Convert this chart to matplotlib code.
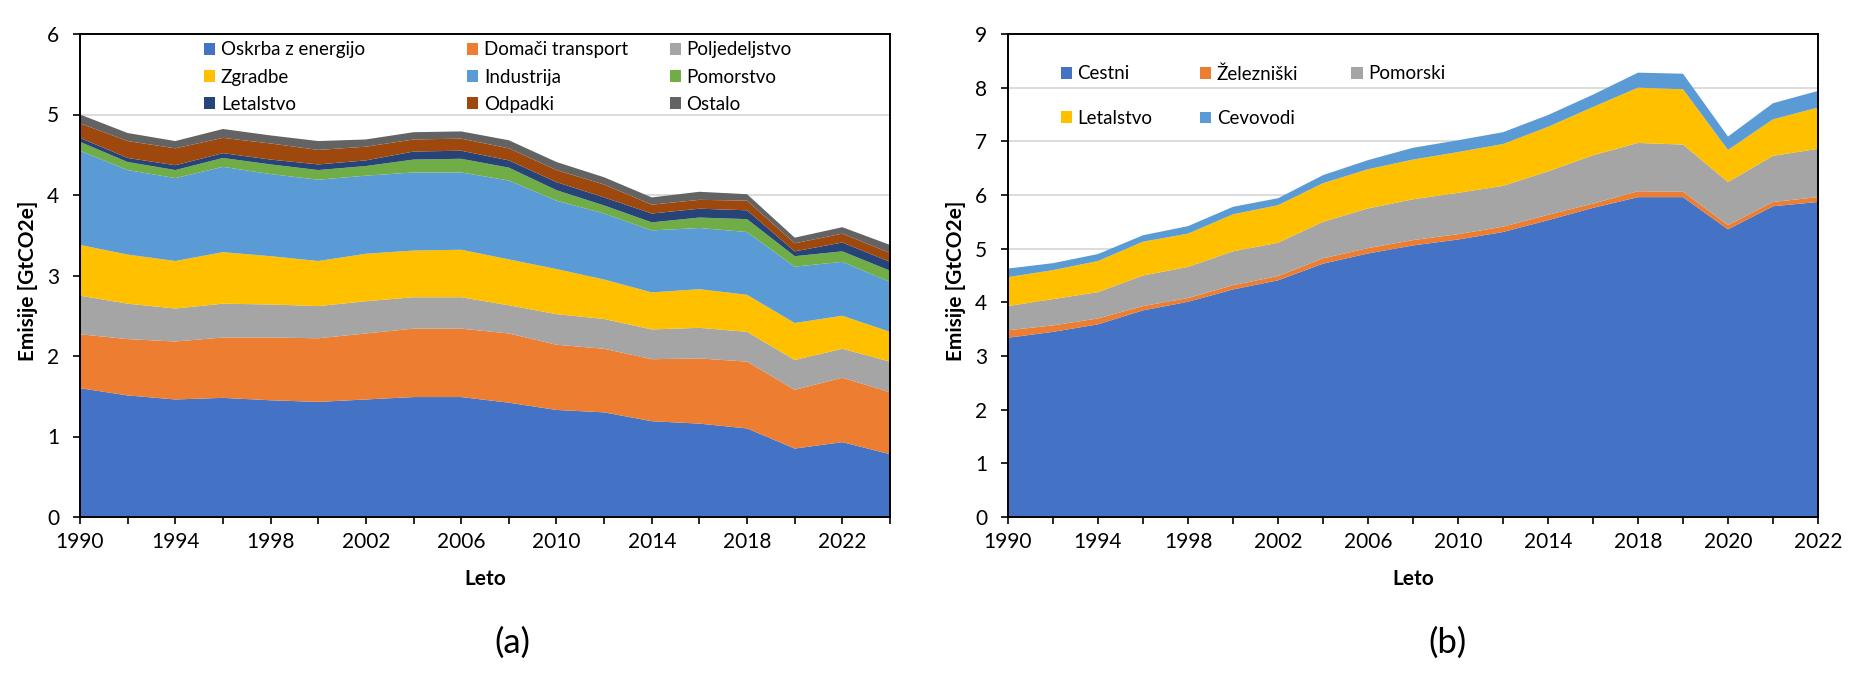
"""Two stacked-area charts of emissions (GtCO2e): (a) by sector, (b) transport by mode."""

import matplotlib
matplotlib.use("Agg")
import matplotlib.pyplot as plt
from matplotlib.patches import Patch
import numpy as np

# (a) sectors, every 2nd year 1990-2024
years_a = list(range(1990, 2025, 2))
sectors_a = ["Oskrba z energijo", "Domači transport", "Poljedeljstvo", "Zgradbe",
             "Industrija", "Pomorstvo", "Letalstvo", "Odpadki", "Ostalo"]
oskrba = [1.60, 1.51, 1.46, 1.48, 1.45, 1.43, 1.46, 1.49, 1.49, 1.42, 1.33, 1.30, 1.19, 1.16, 1.10, 0.85, 0.93, 0.78]
domaci = [0.67, 0.70, 0.72, 0.75, 0.78, 0.79, 0.82, 0.85, 0.85, 0.86, 0.81, 0.79, 0.77, 0.81, 0.83, 0.73, 0.80, 0.77]
poljedeljstvo = [0.48, 0.44, 0.41, 0.42, 0.41, 0.40, 0.40, 0.39, 0.39, 0.35, 0.38, 0.37, 0.37, 0.38, 0.37, 0.37, 0.36, 0.38]
zgradbe = [0.63, 0.61, 0.59, 0.64, 0.60, 0.56, 0.59, 0.58, 0.59, 0.57, 0.56, 0.49, 0.46, 0.48, 0.46, 0.46, 0.41, 0.37]
industrija = [1.17, 1.05, 1.03, 1.06, 1.02, 1.01, 0.97, 0.97, 0.96, 0.98, 0.85, 0.82, 0.77, 0.76, 0.78, 0.70, 0.67, 0.62]
pomorstvo = [0.11, 0.10, 0.10, 0.11, 0.12, 0.12, 0.12, 0.16, 0.17, 0.16, 0.13, 0.10, 0.10, 0.13, 0.16, 0.13, 0.13, 0.14]
letalstvo_a = [0.05, 0.05, 0.06, 0.06, 0.06, 0.07, 0.07, 0.10, 0.10, 0.09, 0.10, 0.10, 0.11, 0.11, 0.11, 0.06, 0.11, 0.11]
odpadki = [0.18, 0.21, 0.21, 0.19, 0.20, 0.18, 0.17, 0.15, 0.15, 0.15, 0.15, 0.16, 0.11, 0.11, 0.12, 0.10, 0.11, 0.11]
ostalo = [0.11, 0.10, 0.09, 0.11, 0.10, 0.11, 0.09, 0.09, 0.09, 0.10, 0.10, 0.09, 0.09, 0.10, 0.08, 0.07, 0.08, 0.10]
colors_a = ["#4472C4", "#ED7D31", "#A5A5A5", "#FFC000", "#5B9BD5",
            "#70AD47", "#264478", "#9E480E", "#636363"]

# (b) transport modes, category axis: 1990-2018 every 2nd year, then yearly
years_b = list(range(1990, 2019, 2)) + [2019, 2020, 2021, 2022]
modes_b = ["Cestni", "Železniški", "Pomorski", "Letalstvo", "Cevovodi"]
cestni = [3.34, 3.45, 3.59, 3.85, 4.01, 4.24, 4.41, 4.72, 4.91, 5.06, 5.17, 5.31, 5.53, 5.76, 5.96, 5.96, 5.36, 5.79, 5.87]
zelezniski = [0.14, 0.12, 0.11, 0.08, 0.07, 0.08, 0.08, 0.10, 0.10, 0.10, 0.10, 0.10, 0.10, 0.08, 0.11, 0.10, 0.08, 0.08, 0.09]
pomorski = [0.45, 0.49, 0.49, 0.57, 0.58, 0.63, 0.62, 0.68, 0.74, 0.76, 0.77, 0.76, 0.81, 0.90, 0.90, 0.88, 0.80, 0.86, 0.90]
letalstvo_b = [0.54, 0.54, 0.58, 0.63, 0.62, 0.69, 0.70, 0.72, 0.73, 0.74, 0.76, 0.78, 0.83, 0.90, 1.03, 1.03, 0.60, 0.68, 0.77]
cevovodi = [0.16, 0.13, 0.13, 0.12, 0.14, 0.14, 0.13, 0.15, 0.17, 0.22, 0.22, 0.22, 0.22, 0.23, 0.28, 0.29, 0.25, 0.30, 0.31]
colors_b = ["#4472C4", "#ED7D31", "#A5A5A5", "#FFC000", "#5B9BD5"]

plt.rcParams["font.family"] = ["Lato", "DejaVu Sans"]

W, H = 1858, 688


def style_axes(ax, years, ymax):
    n = len(years)
    ax.set_xlim(0, n - 1)
    ax.set_ylim(0, ymax)
    ax.set_xticks(range(n), [str(y) if i % 2 == 0 else "" for i, y in enumerate(years)])
    ax.set_yticks(range(ymax + 1))
    ax.tick_params(direction="out", length=5, width=1.2, labelsize=15, color="black")
    ax.tick_params(axis="x", pad=6)
    ax.tick_params(axis="y", pad=10)
    ax.grid(axis="y", color="#D9D9D9", lw=1.3)
    ax.set_axisbelow(True)
    for s in ax.spines.values():
        s.set_color("black")
        s.set_linewidth(1.4)
    ax.set_xlabel("Leto", fontsize=15, fontweight="bold")
    ax.xaxis.set_label_coords(0.5, -0.128)
    ax.xaxis.label.set_va("center")
    ax.set_ylabel("Emisije [GtCO2e]", fontsize=15, fontweight="bold")
    ax.yaxis.set_label_coords(-0.0642, 0.49)
    ax.yaxis.label.set_va("center")


def column_legends(ax, names, colors, columns, xs, y, labelspacing):
    # Excel-like legend: fixed column positions, row-major order
    for k, (col, x) in enumerate(zip(columns, xs)):
        handles = [Patch(facecolor=colors[i], edgecolor="none") for i in col]
        leg = ax.legend(handles, [names[i] for i in col], loc="upper left",
                        bbox_to_anchor=(x, y), frameon=False, fontsize=13.5,
                        handlelength=0.6, handleheight=0.6, handletextpad=0.3,
                        borderpad=0, borderaxespad=0, labelspacing=labelspacing)
        if k < len(columns) - 1:
            ax.add_artist(leg)


def main():
    fig = plt.figure(figsize=(W / 100, H / 100), dpi=100)
    bottom, height = 1 - 517 / H, 483 / H

    ax1 = fig.add_axes([80 / W, bottom, 810 / W, height])
    data_a = np.vstack([oskrba, domaci, poljedeljstvo, zgradbe, industrija,
                        pomorstvo, letalstvo_a, odpadki, ostalo])
    ax1.stackplot(range(len(years_a)), data_a, colors=colors_a, lw=0)
    style_axes(ax1, years_a, 6)
    column_legends(ax1, sectors_a, colors_a, [[0, 3, 6], [1, 4, 7], [2, 5, 8]],
                   [0.153, 0.478, 0.728], 0.985, 0.55)

    ax2 = fig.add_axes([1008 / W, bottom, 810 / W, height])
    data_b = np.vstack([cestni, zelezniski, pomorski, letalstvo_b, cevovodi])
    ax2.stackplot(range(len(years_b)), data_b, colors=colors_b, lw=0)
    style_axes(ax2, years_b, 9)
    column_legends(ax2, modes_b, colors_b, [[0, 3], [1, 4], [2]],
                   [0.065, 0.237, 0.424], 0.935, 1.45)

    fig.text(512 / W, 1 - 643 / H, "(a)", ha="center", va="center", fontsize=25)
    fig.text(1448 / W, 1 - 643 / H, "(b)", ha="center", va="center", fontsize=25)

    fig.savefig("out.png", dpi=100)
    plt.close(fig)


if __name__ == "__main__":
    main()
